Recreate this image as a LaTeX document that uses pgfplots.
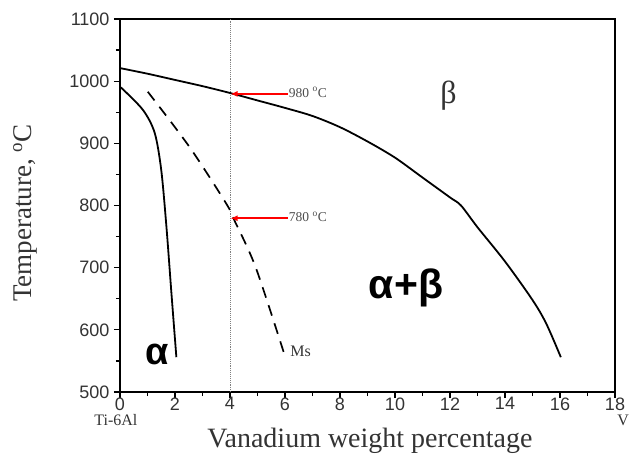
\documentclass[border=0pt]{standalone}
\usepackage{pgfplots}
\pgfplotsset{compat=1.18}
\usetikzlibrary{arrows.meta}
\usepackage{fontspec}
\setmainfont{Liberation Serif}
\setsansfont{Liberation Sans}
\definecolor{txt}{gray}{0.2}
\begin{document}
\begin{tikzpicture}[x=1pt,y=1pt]
\useasboundingbox (-120,-74) rectangle (509,392);
\begin{axis}[
  scale only axis, width=495pt, height=373pt,
  xmin=0, xmax=18, ymin=500, ymax=1100,
  xtick={0,2,...,18}, minor xtick={1,3,...,17},
  ytick={500,600,...,1100}, minor ytick={550,650,...,1050},
  tick align=outside, tick pos=left,
  major tick length=6pt, minor tick length=4pt,
  every tick/.style={black, line width=1.2pt},
  axis line style={line width=1.4pt},
  tick label style={font=\sffamily\fontsize{18}{18}\selectfont, text=txt},
  /pgf/number format/assume math mode=true,
  /pgf/number format/1000 sep={},
  xticklabel style={yshift=4pt},
  yticklabel style={xshift=-1pt},
  xlabel={Vanadium weight percentage},
  ylabel={Temperature, $^{\mathrm{o}}$C},
  xlabel style={font=\fontsize{28}{28}\selectfont, text=txt, at={(axis description cs:0.505,-0.131)}, anchor=center},
  ylabel style={font=\fontsize{27}{27}\selectfont, text=txt, at={(axis description cs:-0.192,0.48)}, anchor=center},
  clip=false,
]
% dotted guide at 4 wt%
\addplot[gray, densely dotted, line width=0.9pt] coordinates {(4,500) (4,1100)};
% beta transus
\addplot[black, line width=1.8pt, smooth, tension=0.5] coordinates {
 (0,1021) (1,1012) (2,1002) (3,992) (4,981) (5,969) (6,957) (7,944) (8,926)
 (9,903) (10,877) (11,845) (12,813) (12.4,800) (13,765) (14,710) (15,648) (15.5,610) (16.03,556)};
% alpha boundary
\addplot[black, line width=1.8pt, smooth] coordinates {
 (0.03,990) (0.83,954) (1.26,917) (1.5,857) (1.69,765) (1.87,659) (2.05,556)};
% Ms line
\addplot[black, line width=1.7pt, dash pattern=on 11pt off 8pt, smooth] coordinates {
 (1.01,983) (2.53,894) (3.85,804) (4.15,777) (4.93,701) (5.96,563)};
% arrows
\draw[red, line width=1.8pt, -{Latex[length=7pt,width=6pt]}] (axis cs:6.1,979.5) -- (axis cs:4.02,979.5);
\draw[red, line width=1.8pt, -{Latex[length=7pt,width=6pt]}] (axis cs:6.1,779.5) -- (axis cs:4.02,779.5);
\node[anchor=west, inner sep=1pt, font=\fontsize{13.5}{13.5}\selectfont, text=black!70] at (axis cs:6.1,982) {980 $^{\mathrm{o}}$C};
\node[anchor=west, inner sep=1pt, font=\fontsize{13.5}{13.5}\selectfont, text=black!70] at (axis cs:6.1,782) {780 $^{\mathrm{o}}$C};
\node[anchor=west, inner sep=1pt, font=\fontsize{16}{16}\selectfont, text=txt] at (axis cs:6.15,566) {Ms};
\node[font=\fontsize{32}{32}\selectfont, text=txt] at (axis cs:11.95,976) {β};
\node[font=\sffamily\bfseries\fontsize{41}{41}\selectfont] at (axis cs:10.4,668) {α+β};
\node[font=\sffamily\bfseries\fontsize{38}{38}\selectfont] at (axis cs:1.35,560) {α};
\node[font=\fontsize{16}{16}\selectfont, text=txt] at (axis cs:-0.15,455) {Ti-6Al};
\node[font=\fontsize{16}{16}\selectfont, text=txt] at (axis cs:18.3,455) {V};
\end{axis}
\end{tikzpicture}
\end{document}
